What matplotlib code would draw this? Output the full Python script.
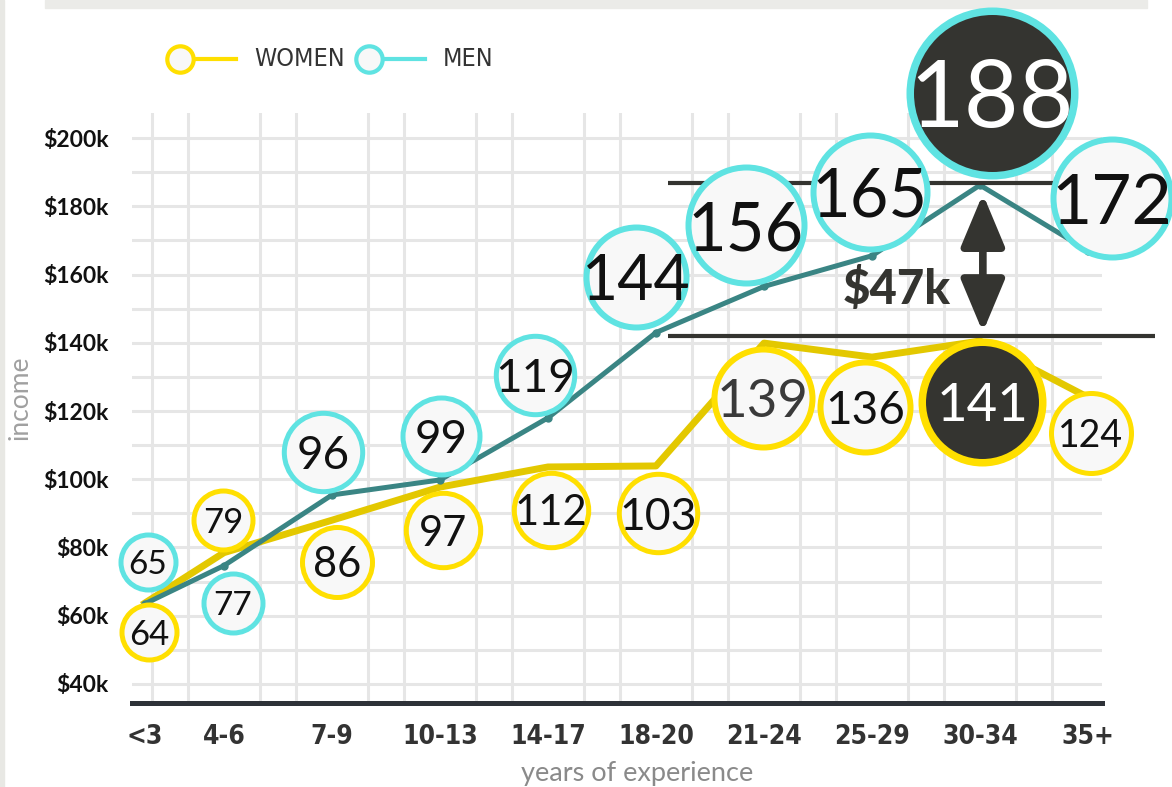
import matplotlib
matplotlib.use('Agg')
import matplotlib.pyplot as plt
from matplotlib.patches import Rectangle

categories = ['<3', '4-6', '7-9', '10-13', '14-17', '18-20', '21-24', '25-29', '30-34', '35+']

women_labels = [64, 79, 86, 97, 112, 103, 139, 136, 141, 124]
men_labels = [65, 77, 96, 99, 119, 144, 156, 165, 188, 172]

# the drawn lines don't always sit exactly on the labelled values ($k)
women_line = [63.7, 78.5, 88, 97.7, 103.6, 103.9, 139.9, 135.8, 140.5, 124]
men_line = [63.5, 74.7, 95.4, 99.8, 118.0, 143, 156.5, 165.5, 186.2, 167]

gap_top = 186.8
gap_bottom = 142.1
gap_text = '$47k'

yticks = [40, 60, 80, 100, 120, 140, 160, 180, 200]
ytick_labels = ['$40k', '$60k', '$80k', '$100k', '$120k', '$140k', '$160k', '$180k', '$200k']

# layout: x position of each category in grid cells, bubble offsets / sizes
cat_pos = [-0.2, 2, 5, 8, 11, 14, 17, 20, 23, 26]
w_off = [(0.12, -8.8), (-0.03, 9.1), (0.14, -10.2), (0.08, -11.9), (0.08, -21),
         (0.06, -12.9), (-0.03, -15.2), (-0.2, -14.8), (0.06, -18.4), (0.08, -10.4)]
m_off = [(0.09, 10.8), (0.25, -13.3), (-0.25, 12), (0.03, 13.7), (-0.36, 11.5),
         (-0.56, 15.3), (-0.5, 18.5), (-0.06, 19.2), (0.33, 25.2), (0.67, 10.4)]
w_rad = [30, 32, 37.5, 39.7, 39.7, 41.7, 52, 48, 64, 42.5]
m_rad = [30, 32, 41.7, 41, 41.7, 53, 61, 60, 86, 62]
w_font = [25, 25, 30, 30, 30, 32, 38, 33, 38, 27]
m_font = [24, 24, 33, 33, 33, 45, 48, 48, 68, 50]
w_hi = 8   # index of highlighted bubble
m_hi = 8

GOLD = '#ffdf00'
GOLD_LINE = '#e3c800'
CYAN = '#5fe3e2'
TEAL = '#3a8584'
DARK = '#343430'
FILL = '#f8f8f8'

plt.rcParams['font.family'] = ['Lato', 'DejaVu Sans']
narrow = ['Liberation Sans Narrow', 'DejaVu Sans Condensed', 'DejaVu Sans']

fig = plt.figure(figsize=(11.72, 7.87), dpi=100)
ax = fig.add_axes([132 / 1172, 84 / 787, 970 / 1172, 590 / 787])
ax.set_xlim(-0.556, 26.39)
ax.set_ylim(34.43, 207.33)

# grid
ax.set_xticks(cat_pos)
ax.set_xticklabels(categories, fontfamily=narrow, fontstretch='condensed', fontweight='bold',
                   fontsize=19, color='#333333')
ax.set_xticks(range(27), minor=True)
ax.set_yticks(yticks)
ax.set_yticklabels(ytick_labels, fontweight='bold', fontsize=16.5, color='#111111')
ax.set_yticks(range(50, 200, 20), minor=True)
ax.grid(which='minor', axis='x', color='#e6e6e6', lw=2.2)
ax.grid(which='both', axis='y', color='#e6e6e6', lw=2.2)
ax.set_axisbelow(True)
ax.tick_params(which='both', length=0)
ax.tick_params(axis='y', pad=17)
ax.tick_params(axis='x', pad=15)
for s in ['left', 'top', 'right']:
    ax.spines[s].set_visible(False)
ax.spines['bottom'].set_color('#2e3238')
ax.spines['bottom'].set_linewidth(3.6)

# lines
ax.plot(cat_pos, women_line, color=GOLD_LINE, lw=5, zorder=2, solid_joinstyle='round')
ax.plot(cat_pos, men_line, color=TEAL, lw=3.6, marker='o', ms=5, zorder=2.1)

# gap markers
ax.hlines(gap_top, 14.33, 26, color=DARK, lw=3, zorder=2.5, clip_on=False)
ax.hlines(gap_bottom, 14.33, 27.86, color=DARK, lw=3, zorder=2.5, clip_on=False)
ax.annotate('', xy=(cat_pos[8] + 0.08, gap_top - 3.2), xytext=(cat_pos[8] + 0.08, gap_bottom + 1.0),
            arrowprops=dict(arrowstyle='<|-|>,head_length=1.1,head_width=0.46',
                            color=DARK, lw=5.5, mutation_scale=29, shrinkA=0, shrinkB=0),
            zorder=6)
ax.text(20.7, 155.6, gap_text, fontsize=34, fontweight='black', color=DARK,
        ha='center', va='center', zorder=6)


def bubbles(vals, offs, rads, fonts, edge, hi, txtcol):
    for i, v in enumerate(vals):
        x = cat_pos[i] + offs[i][0]
        y = v + offs[i][1]
        lw = 5 if rads[i] < 45 else 6
        face = FILL
        tc = txtcol[i]
        if i == hi:
            lw = 7.5
            face = DARK
            tc = 'white'
        ms = (2 * rads[i] - lw) * 0.72
        ax.scatter([x], [y], s=ms ** 2, facecolor=face, edgecolor=edge,
                   linewidths=lw * 0.72, zorder=3, clip_on=False)
        ax.text(x, y, str(v), fontsize=fonts[i], color=tc, ha='center', va='center_baseline',
                zorder=4, clip_on=False)


w_txt = ['#111111'] * 10
w_txt[6] = '#3a3a3a'
bubbles(women_labels, w_off, w_rad, w_font, GOLD, w_hi, w_txt)
bubbles(men_labels, m_off, m_rad, m_font, CYAN, m_hi, ['#111111'] * 10)

# axis titles
fig.text(20 / 1172, 1 - 398 / 787, 'income', rotation=90, fontsize=19, color='#a0a0a0',
         ha='center', va='center')
fig.text(637 / 1172, 1 - 773 / 787, 'years of experience', fontsize=19.5, color='#8a8a8a',
         ha='center', va='center')

# legend
for cx, col, label, tx in [(180, GOLD, 'WOMEN', 254), (369, CYAN, 'MEN', 443)]:
    fy = 1 - 59 / 787
    fig.add_artist(plt.Line2D([(cx + 12) / 1172, (cx + 56) / 1172], [fy, fy],
                              color=col, lw=3, transform=fig.transFigure))
    fig.add_artist(plt.Line2D([cx / 1172], [fy], marker='o', ms=19, mew=3,
                              mfc=FILL, mec=col, transform=fig.transFigure))
    fig.text(tx / 1172, fy, label, fontfamily=narrow, fontstretch='condensed', fontsize=18,
             color='#333333', ha='left', va='center')

# background decorations
fig.add_artist(Rectangle((45 / 1172, 1 - 8 / 787), 1102 / 1172, 8 / 787,
                         color='#ebebe8', transform=fig.transFigure, zorder=0))
fig.add_artist(Rectangle((0, 0), 4 / 1172, 1, color='#e8e8e4',
                         transform=fig.transFigure, zorder=0))

fig.savefig('out.png', dpi=100)
